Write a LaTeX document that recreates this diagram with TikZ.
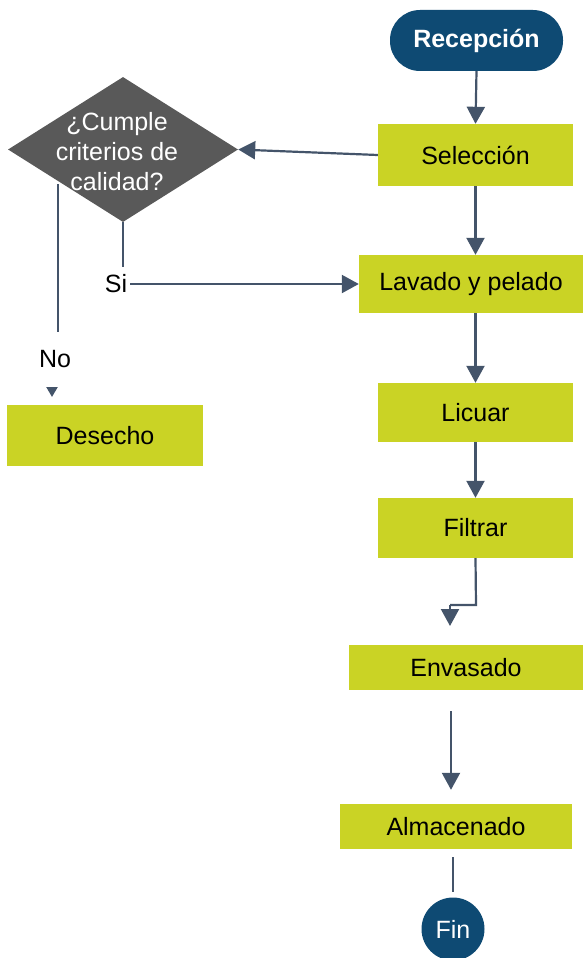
\documentclass[tikz,border=0pt]{standalone}
\usepackage{fontspec}
\setmainfont{Liberation Sans}
\usetikzlibrary{shapes.geometric,arrows.meta}
\definecolor{boxgreen}{RGB}{202,211,37}
\definecolor{darkblue}{RGB}{14,74,115}
\definecolor{linec}{RGB}{68,84,106}
\definecolor{diagray}{RGB}{89,89,89}
\begin{document}
\begin{tikzpicture}[x=1pt,y=-1pt,
  font=\fontsize{25}{30}\selectfont,
  stepbox/.style={fill=boxgreen,draw=none,inner sep=0pt,text=black},
  conn/.style={draw=linec,line width=2.2pt},
  arr/.style={conn,-{Triangle[width=18pt,length=17pt]}},
  smallarr/.style={conn,-{Triangle[width=11pt,length=10pt]}}]
\useasboundingbox (0,0) rectangle (583,958);
% nodes
\node[fill=darkblue,rounded corners=30pt,minimum width=173pt,minimum height=61pt,inner sep=0pt,text=white,font=\fontsize{25}{30}\selectfont\bfseries] (rec) at (476.5,40.5) {Recepción};
\node[stepbox,minimum width=195pt,minimum height=62pt] (sel) at (475.5,155) {Selección};
\node[diamond,fill=diagray,minimum width=230pt,minimum height=145pt,inner sep=0pt] (q) at (123,149.5) {};
\node[text=white,align=center,inner sep=0pt] (qt) at (117,152) {¿Cumple\\criterios de\\calidad?};
\node[stepbox,minimum width=224pt,minimum height=58pt] (lav) at (471,284) {Lavado y pelado};
\node[stepbox,minimum width=196pt,minimum height=61pt] (des) at (105,435.5) {Desecho};
\node[stepbox,minimum width=195pt,minimum height=59pt] (lic) at (475.5,412.5) {Licuar};
\node[stepbox,minimum width=195pt,minimum height=60pt] (fil) at (475.5,528) {Filtrar};
\node[stepbox,minimum width=234pt,minimum height=45pt] (env) at (466,667.5) {Envasado};
\node[stepbox,minimum width=232pt,minimum height=45pt] (alm) at (456,826.5) {Almacenado};
\node[circle,fill=darkblue,minimum size=63pt,inner sep=0pt,text=white] (fin) at (453,929) {Fin};
\node[inner sep=0pt] (si) at (116,284) {Si};
\node[inner sep=0pt] (no) at (55,359) {No};
% coordinates
\coordinate (notop) at (58,184);
\coordinate (nobot) at (58,332);
\coordinate (noa) at (52,387.5);
\coordinate (nob) at (52,397);
\coordinate (sibend) at (123,267);
\coordinate (f1) at (476,605);
\coordinate (f2) at (450,605);
\coordinate (f3) at (450,626);
% connectors
\draw[arr] (rec.south) -- (sel.north);
\draw[arr] (sel.west) -- (q.east);
\draw[arr] (sel.south) -- (sel.south |- lav.north);
\draw[conn] (q.south) -- (sibend);
\draw[arr] (si.east) ++(3pt,0) -- (lav.west);
\draw[conn] (notop) -- (nobot);
\draw[smallarr] (noa) -- (nob);
\draw[arr] (lav.south -| sel.south) -- (lic.north);
\draw[arr] (lic.south) -- (fil.north);
\draw[conn] (fil.south) -- (f1) -- (f2);
\draw[arr] (f2) -- (f3);
\draw[arr,shorten <=21pt,shorten >=14pt] (env.south -| 451,0) -- (alm.north -| 451,0);
\draw[conn,shorten <=8pt,shorten >=5pt] (alm.south -| fin.north) -- (fin.north);
\end{tikzpicture}
\end{document}
